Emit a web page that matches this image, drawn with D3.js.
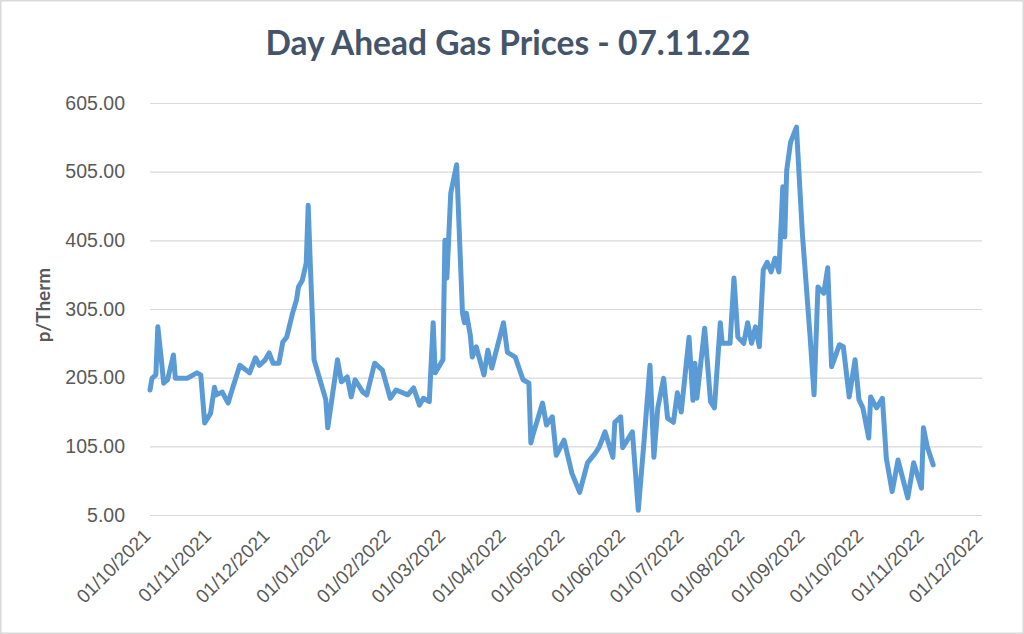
<!DOCTYPE html>
<html>
<head>
<meta charset="utf-8">
<script src="https://cdn.jsdelivr.net/npm/d3@7"></script>
<style>
  html, body { margin: 0; padding: 0; background: #fff; }
  svg { display: block; font-family: Lato, "Open Sans", sans-serif; }
</style>
</head>
<body>
<svg id="chart" width="1024" height="634"></svg>
<script>
// day ahead prices, p/therm
const dates = [
  "2021-10-01","2021-10-02","2021-10-04","2021-10-05","2021-10-07","2021-10-08","2021-10-10","2021-10-13",
  "2021-10-14","2021-10-20","2021-10-25","2021-10-27","2021-10-29","2021-11-01","2021-11-03","2021-11-04",
  "2021-11-07","2021-11-10","2021-11-12","2021-11-16","2021-11-21","2021-11-24","2021-11-26","2021-11-29",
  "2021-12-01","2021-12-03","2021-12-06","2021-12-08","2021-12-10","2021-12-13","2021-12-15","2021-12-16",
  "2021-12-18","2021-12-20","2021-12-21","2021-12-22","2021-12-24","2021-12-30","2021-12-31","2022-01-05",
  "2022-01-07","2022-01-10","2022-01-12","2022-01-14","2022-01-18","2022-01-20","2022-01-24","2022-01-28",
  "2022-02-01","2022-02-04","2022-02-10","2022-02-13","2022-02-16","2022-02-18","2022-02-21","2022-02-23",
  "2022-02-24","2022-02-28","2022-03-01","2022-03-02","2022-03-04","2022-03-07","2022-03-10","2022-03-11",
  "2022-03-12","2022-03-14","2022-03-15","2022-03-17","2022-03-21","2022-03-23","2022-03-25","2022-03-31",
  "2022-04-02","2022-04-06","2022-04-10","2022-04-13","2022-04-14","2022-04-15","2022-04-20","2022-04-22",
  "2022-04-25","2022-04-27","2022-05-01","2022-05-05","2022-05-09","2022-05-13","2022-05-17","2022-05-19",
  "2022-05-22","2022-05-26","2022-05-27","2022-05-30","2022-05-31","2022-06-05","2022-06-08","2022-06-11",
  "2022-06-14","2022-06-16","2022-06-18","2022-06-21","2022-06-23","2022-06-26","2022-06-28","2022-06-30",
  "2022-07-04","2022-07-06","2022-07-07","2022-07-08","2022-07-12","2022-07-15","2022-07-17","2022-07-20",
  "2022-07-21","2022-07-25","2022-07-27","2022-07-29","2022-08-01","2022-08-03","2022-08-05","2022-08-07",
  "2022-08-09","2022-08-11","2022-08-13","2022-08-15","2022-08-17","2022-08-19","2022-08-21","2022-08-22",
  "2022-08-23","2022-08-25","2022-08-28","2022-08-31","2022-09-04","2022-09-06","2022-09-08","2022-09-11",
  "2022-09-13","2022-09-15","2022-09-19","2022-09-21","2022-09-24","2022-09-27","2022-09-29","2022-10-01",
  "2022-10-04","2022-10-05","2022-10-08","2022-10-11","2022-10-13","2022-10-16","2022-10-19","2022-10-24",
  "2022-10-27","2022-10-31","2022-11-01","2022-11-03","2022-11-06"
];
const prices = [
  187, 204, 209, 279, 226, 197, 202, 238,
  204, 204, 212, 209, 139, 153, 191, 180,
  184, 168, 187, 223, 212, 234, 223, 231,
  241, 226, 226, 257, 264, 299, 318, 337,
  347, 372, 456, 376, 231, 173, 132, 231,
  199, 206, 177, 202, 184, 180, 226, 216,
  175, 187, 180, 190, 165, 175, 170, 285,
  212, 231, 405, 350, 474, 515, 299, 285,
  299, 267, 235, 250, 209, 245, 219, 285,
  242, 235, 202, 197, 110, 121, 168, 136,
  148, 92, 114, 66, 38, 81, 95, 104,
  126, 89, 140, 148, 103, 126, 12, 114,
  223, 89, 161, 204, 146, 140, 183, 155,
  264, 172, 226, 175, 277, 170, 161, 285,
  255, 255, 350, 264, 255, 285, 255, 279,
  250, 362, 373, 359, 379, 359, 483, 410,
  507, 548, 570, 416, 264, 180, 337, 328,
  365, 221, 253, 250, 177, 231, 173, 161,
  117, 177, 161, 175, 88, 39, 85, 30,
  81, 44, 132, 104, 78
];
const yTicks = [5, 105, 205, 305, 405, 505, 605];
const xTickDates = [
  "2021-10-01","2021-11-01","2021-12-01","2022-01-01","2022-02-01","2022-03-01","2022-04-01","2022-05-01",
  "2022-06-01","2022-07-01","2022-08-01","2022-09-01","2022-10-01","2022-11-01","2022-12-01"
];
const chartTitle = "Day Ahead Gas Prices - 07.11.22";
const yTitle = "p/Therm";

const parse = d3.utcParse("%Y-%m-%d");
const data = dates.map((d, i) => ({ date: parse(d), value: prices[i] }));

const svg = d3.select("#chart");
const W = 1024, H = 634;
const plot = { left: 150, right: 982, top: 103, bottom: 515 };

// chart area border
svg.append("rect")
  .attr("x", 0.75).attr("y", 0.75)
  .attr("width", W - 1.5).attr("height", H - 1.5)
  .attr("fill", "#fff")
  .attr("stroke", "#d9d9d9")
  .attr("stroke-width", 1.5);

const x = d3.scaleUtc()
  .domain([parse(xTickDates[0]), parse(xTickDates[xTickDates.length - 1])])
  .range([plot.left, plot.right]);

const y = d3.scaleLinear()
  .domain([5, 605])
  .range([plot.bottom, plot.top]);

// gridlines + y labels
const yAxis = svg.append("g")
  .attr("transform", `translate(${plot.left},0)`)
  .call(d3.axisLeft(y)
    .tickValues(yTicks)
    .tickFormat(d3.format(".2f"))
    .tickSize(-(plot.right - plot.left))
    .tickPadding(25));
yAxis.select(".domain").remove();
yAxis.selectAll(".tick line").attr("stroke", "#d9d9d9").attr("stroke-width", 1.2);
yAxis.selectAll(".tick text")
  .attr("fill", "#595959")
  .attr("font-size", 19.5);

// x labels, rotated
const xAxis = svg.append("g")
  .attr("transform", `translate(0,${plot.bottom})`)
  .call(d3.axisBottom(x)
    .tickValues(xTickDates.map(parse))
    .tickFormat(d3.utcFormat("%d/%m/%Y"))
    .tickSize(0));
xAxis.select(".domain").remove();
xAxis.selectAll(".tick text")
  .attr("fill", "#595959")
  .attr("font-size", 19)
  .attr("text-anchor", "end")
  .attr("dy", 0)
  .attr("transform", "translate(-1,20) rotate(-45)");

// price line
const line = d3.line()
  .x(d => x(d.date))
  .y(d => y(d.value));

svg.append("path")
  .datum(data)
  .attr("d", line)
  .attr("fill", "none")
  .attr("stroke", "#5b9bd5")
  .attr("stroke-width", 5)
  .attr("stroke-linejoin", "round")
  .attr("stroke-linecap", "round");

// titles
svg.append("text")
  .attr("x", 508)
  .attr("y", 55)
  .attr("text-anchor", "middle")
  .attr("font-size", 33.5)
  .attr("font-weight", "bold")
  .attr("fill", "#44546a")
  .text(chartTitle);

svg.append("text")
  .attr("transform", "translate(50,305) rotate(-90)")
  .attr("text-anchor", "middle")
  .attr("font-size", 19)
  .attr("font-weight", "bold")
  .attr("fill", "#595959")
  .text(yTitle);
</script>
</body>
</html>
